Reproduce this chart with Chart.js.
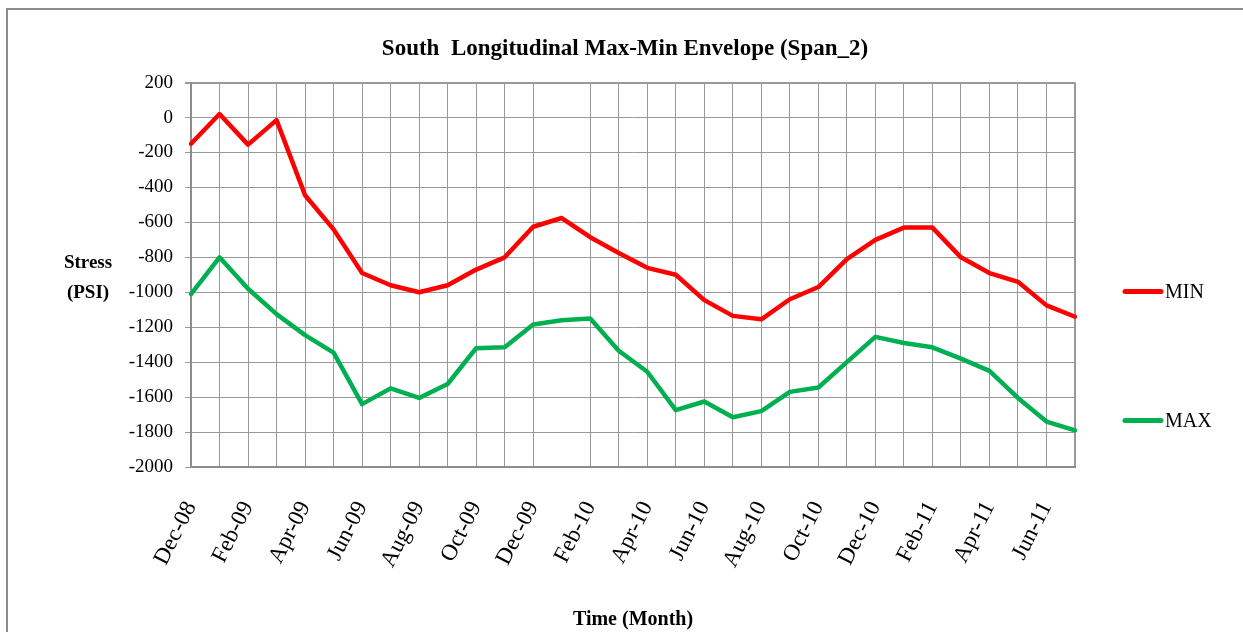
<!DOCTYPE html>
<html>
<head>
<meta charset="utf-8">
<title>South Longitudinal Max-Min Envelope</title>
<script src="https://cdn.jsdelivr.net/npm/chart.js@4"></script>
<style>
  html, body { margin: 0; padding: 0; background: #fff; overflow: hidden; }
  #frame { position: absolute; left: 6px; top: 8px; width: 1260px; height: 640px;
           border-left: 2px solid #8c8c8c; border-top: 2px solid #8c8c8c; }
  #wrap { position: absolute; left: 0; top: 0; width: 1243px; height: 632px; }
</style>
</head>
<body>
<div id="frame"></div>
<div id="wrap"><canvas id="chart-envelope"></canvas></div>
<script>
const months = ['Dec-08', 'Jan-09', 'Feb-09', 'Mar-09', 'Apr-09', 'May-09', 'Jun-09', 'Jul-09',
  'Aug-09', 'Sep-09', 'Oct-09', 'Nov-09', 'Dec-09', 'Jan-10', 'Feb-10', 'Mar-10',
  'Apr-10', 'May-10', 'Jun-10', 'Jul-10', 'Aug-10', 'Sep-10', 'Oct-10', 'Nov-10',
  'Dec-10', 'Jan-11', 'Feb-11', 'Mar-11', 'Apr-11', 'May-11', 'Jun-11', 'Jul-11'];

const minStress = [-150, 20, -155, -15, -445, -640, -890, -960,
  -1000, -960, -870, -800, -625, -575, -685, -775,
  -860, -900, -1045, -1135, -1155, -1040, -970, -810,
  -700, -630, -630, -800, -890, -940, -1075, -1140];

const maxStress = [-1010, -800, -980, -1125, -1245, -1345, -1640, -1550,
  -1605, -1525, -1320, -1315, -1185, -1160, -1150, -1335,
  -1455, -1675, -1625, -1715, -1680, -1570, -1545, -1400,
  -1255, -1290, -1315, -1380, -1450, -1605, -1740, -1790];

const stressMin = -2000;
const stressMax = 200;
const stressStep = 200;

const serif = "'Liberation Serif', 'Times New Roman', serif";
const gridGrey = '#999999';
const axisGrey = '#8c8c8c';

// two-line horizontal caption left of the value axis
const stressCaption = {
  id: 'stressCaption',
  afterDraw(chart, args, opts) {
    const { ctx, chartArea } = chart;
    ctx.save();
    ctx.font = `bold 19px ${serif}`;
    ctx.fillStyle = '#000';
    ctx.textAlign = 'center';
    ctx.textBaseline = 'middle';
    opts.lines.forEach((line, i) => {
      ctx.fillText(line, chartArea.left - 103, chartArea.top + 180 + i * 30);
    });
    ctx.restore();
  }
};

// legend entries spread down the right margin
const sideLegend = {
  id: 'sideLegend',
  afterDraw(chart, args, opts) {
    const { ctx, chartArea } = chart;
    ctx.save();
    ctx.font = `20px ${serif}`;
    ctx.textBaseline = 'middle';
    ctx.textAlign = 'left';
    chart.data.datasets.forEach((ds, i) => {
      const x = chartArea.right + 50;
      const y = chartArea.top + opts.rows[i];
      ctx.strokeStyle = ds.borderColor;
      ctx.lineWidth = 5;
      ctx.lineCap = 'round';
      ctx.beginPath();
      ctx.moveTo(x, y);
      ctx.lineTo(x + 36, y);
      ctx.stroke();
      ctx.fillStyle = '#000';
      ctx.fillText(ds.label, x + 40, y + 1);
    });
    ctx.restore();
  }
};

new Chart(document.getElementById('chart-envelope'), {
  type: 'line',
  data: {
    labels: months,
    datasets: [
      { label: 'MIN', data: minStress, borderColor: '#ff0000', backgroundColor: '#ff0000' },
      { label: 'MAX', data: maxStress, borderColor: '#00b050', backgroundColor: '#00b050' },
    ]
  },
  options: {
    responsive: true,
    maintainAspectRatio: false,
    animation: false,
    layout: { padding: { left: 100, right: 93, top: 0, bottom: 0 } },
    elements: {
      point: { radius: 0, hoverRadius: 0 },
      line: { borderWidth: 4.5, tension: 0, borderJoinStyle: 'round', borderCapStyle: 'round' }
    },
    plugins: {
      legend: { display: false },
      tooltip: { enabled: false },
      title: {
        display: true,
        text: 'South  Longitudinal Max-Min Envelope (Span_2)',
        color: '#000',
        font: { family: serif, size: 23, weight: 'bold' },
        padding: { top: 35, bottom: 20 }
      },
      stressCaption: { lines: ['Stress', '(PSI)'] },
      sideLegend: { rows: [209, 338] }
    },
    scales: {
      x: {
        grid: {
          color: c => (c.index === 13 ? 'rgba(0,0,0,0)' : gridGrey),
          lineWidth: c => (c.index === months.length - 1 ? 2 : 1),
          drawTicks: false
        },
        border: { color: axisGrey, width: 2 },
        ticks: {
          autoSkip: false,
          minRotation: 63,
          maxRotation: 63,
          padding: 30,
          color: '#000',
          font: { family: serif, size: 23 },
          callback: (v, i) => (i % 2 === 0 ? months[i] : '')
        },
        title: {
          display: true,
          text: 'Time (Month)',
          color: '#000',
          font: { family: serif, size: 20, weight: 'bold' },
          padding: 0
        },
        afterFit: s => { s.height = 165; }
      },
      y: {
        min: stressMin,
        max: stressMax,
        grid: {
          color: gridGrey,
          lineWidth: c => (c.tick && c.tick.value === stressMax ? 2 : 1),
          tickLength: 6
        },
        border: { color: axisGrey, width: 2 },
        ticks: {
          stepSize: stressStep,
          padding: 12,
          color: '#000',
          font: { family: serif, size: 19 },
          callback: v => String(v)
        },
        afterFit: s => { s.width = 91; }
      },
      // empty right-hand strip that keeps room for the legend
      legendRoom: {
        position: 'right',
        min: stressMin,
        max: stressMax,
        grid: { display: false, drawTicks: false },
        border: { display: false },
        ticks: { display: false },
        afterFit: s => { s.width = 75; }
      }
    }
  },
  plugins: [stressCaption, sideLegend]
});
</script>
</body>
</html>
